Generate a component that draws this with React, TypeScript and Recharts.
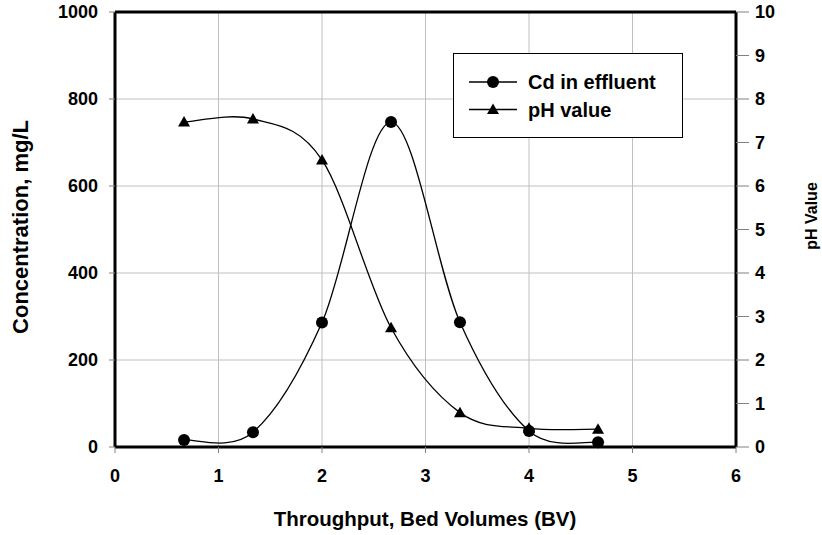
import React from 'react';
import { LineChart, Line, XAxis, YAxis, CartesianGrid, ReferenceLine, Legend } from 'recharts';

const throughputBV = [0.667, 1.333, 2, 2.667, 3.333, 4, 4.667];
const cdEffluent = [16, 34, 286, 747, 287, 37, 11];
const phValues = [7.47, 7.54, 6.6, 2.74, 0.79, 0.43, 0.41];
const xTicks = [0, 1, 2, 3, 4, 5, 6];
const leftTicks = [0, 200, 400, 600, 800, 1000];
const rightTicks = [0, 1, 2, 3, 4, 5, 6, 7, 8, 9, 10];
const seriesNames = ['Cd in effluent', 'pH value'];

const data = throughputBV.map((bv, i) => ({ bv, cd: cdEffluent[i], ph: phValues[i] }));

const FONT = '"Liberation Sans", Arial, sans-serif';

// Excel-like smoothed line (uniform Catmull-Rom as cubic Bezier)
const excelCurve = (context: any) => {
  let pts: number[][] = [];
  return {
    areaStart() {},
    areaEnd() {},
    lineStart() {
      pts = [];
    },
    point(x: number, y: number) {
      pts.push([+x, +y]);
    },
    lineEnd() {
      const n = pts.length;
      if (!n) return;
      context.moveTo(pts[0][0], pts[0][1]);
      for (let i = 0; i < n - 1; i++) {
        const p0 = pts[Math.max(i - 1, 0)];
        const p1 = pts[i];
        const p2 = pts[i + 1];
        const p3 = pts[Math.min(i + 2, n - 1)];
        context.bezierCurveTo(
          p1[0] + (p2[0] - p0[0]) / 6,
          p1[1] + (p2[1] - p0[1]) / 6,
          p2[0] - (p3[0] - p1[0]) / 6,
          p2[1] - (p3[1] - p1[1]) / 6,
          p2[0],
          p2[1]
        );
      }
    },
  };
};

const Circle = ({ cx, cy }: { cx: number; cy: number }) => <circle cx={cx} cy={cy} r={6} fill="#000" />;
const Tri = ({ cx, cy }: { cx: number; cy: number }) => (
  <path d={`M${cx},${cy - 6}L${cx + 6},${cy + 4.5}L${cx - 6},${cy + 4.5}Z`} fill="#000" />
);

const XTick = (p: any) => (
  <text x={p.x} y={p.y + 29} textAnchor="middle" fontFamily={FONT} fontWeight="bold" fontSize={18} fill="#000">
    {p.payload.value}
  </text>
);
const LeftTick = (p: any) => (
  <text x={p.x} y={p.y} dy="0.36em" textAnchor="end" fontFamily={FONT} fontWeight="bold" fontSize={18} fill="#000">
    {p.payload.value}
  </text>
);
const RightTick = (p: any) => (
  <text x={p.x} y={p.y} dy="0.36em" textAnchor="start" fontFamily={FONT} fontWeight="bold" fontSize={18} fill="#000">
    {p.payload.value}
  </text>
);

const renderLegend = () => (
  <svg width={230} height={85} style={{ display: 'block' }}>
    <rect x={0.5} y={0.5} width={229} height={84} fill="#fff" stroke="#000" strokeWidth={1} />
    {seriesNames.map((name, i) => {
      const cy = 29 + i * 27.5;
      return (
        <g key={name}>
          <line x1={16} x2={64} y1={cy} y2={cy} stroke="#000" strokeWidth={1.3} />
          {i === 0 ? <Circle cx={40} cy={cy} /> : <Tri cx={40} cy={cy} />}
          <text x={75} y={cy} dy="0.36em" fontFamily={FONT} fontWeight="bold" fontSize={20} fill="#000">
            {name}
          </text>
        </g>
      );
    })}
  </svg>
);

export default function App() {
  return (
    <div style={{ position: 'absolute', left: 0, top: 0, width: 822, height: 535, background: '#fff' }}>
      <LineChart width={822} height={535} data={data} margin={{ top: 12, right: 0, bottom: 0, left: 0 }}>
        <CartesianGrid yAxisId="left" stroke="#c0c0c0" strokeWidth={1} />
        <XAxis
          dataKey="bv"
          type="number"
          domain={[0, 6]}
          ticks={xTicks}
          interval={0}
          height={88}
          tickSize={6}
          tickMargin={0}
          axisLine={{ stroke: '#000', strokeWidth: 3 }}
          tickLine={{ stroke: '#808080' }}
          tick={<XTick />}
          label={() => (
            <text x={425} y={526} textAnchor="middle" fontFamily={FONT} fontWeight="bold" fontSize={20.5} fill="#000">
              Throughput, Bed Volumes (BV)
            </text>
          )}
        />
        <YAxis
          yAxisId="left"
          type="number"
          domain={[0, 1000]}
          ticks={leftTicks}
          interval={0}
          width={115}
          tickSize={6}
          tickMargin={11}
          axisLine={{ stroke: '#000', strokeWidth: 3 }}
          tickLine={{ stroke: '#808080' }}
          tick={<LeftTick />}
          label={() => (
            <text
              x={20}
              y={227}
              dy="0.35em"
              transform="rotate(-90 20 227)"
              textAnchor="middle"
              fontFamily={FONT}
              fontWeight="bold"
              fontSize={22}
              fill="#000"
            >
              Concentration, mg/L
            </text>
          )}
        />
        <YAxis
          yAxisId="right"
          orientation="right"
          type="number"
          domain={[0, 10]}
          ticks={rightTicks}
          interval={0}
          width={86}
          tickSize={13}
          tickMargin={6}
          axisLine={{ stroke: '#000', strokeWidth: 3 }}
          tickLine={{ stroke: '#808080' }}
          tick={<RightTick />}
          label={() => (
            <text
              x={811}
              y={216}
              dy="0.35em"
              transform="rotate(-90 811 216)"
              textAnchor="middle"
              fontFamily={FONT}
              fontWeight="bold"
              fontSize={16}
              fill="#000"
            >
              pH Value
            </text>
          )}
        />
        <ReferenceLine yAxisId="left" y={1000} stroke="#000" strokeWidth={3} />
        <Legend
          layout="vertical"
          align="center"
          verticalAlign="middle"
          content={renderLegend}
          wrapperStyle={{ position: 'absolute', left: 453, top: 53, width: 230, height: 85 }}
        />
        <Line
          yAxisId="left"
          dataKey="cd"
          name={seriesNames[0]}
          type={excelCurve as any}
          stroke="#000"
          strokeWidth={1.3}
          isAnimationActive={false}
          dot={(p: any) => <Circle key={`c${p.index}`} cx={p.cx} cy={p.cy} />}
        />
        <Line
          yAxisId="right"
          dataKey="ph"
          name={seriesNames[1]}
          type={excelCurve as any}
          stroke="#000"
          strokeWidth={1.3}
          isAnimationActive={false}
          dot={(p: any) => <Tri key={`t${p.index}`} cx={p.cx} cy={p.cy} />}
        />
      </LineChart>
    </div>
  );
}
